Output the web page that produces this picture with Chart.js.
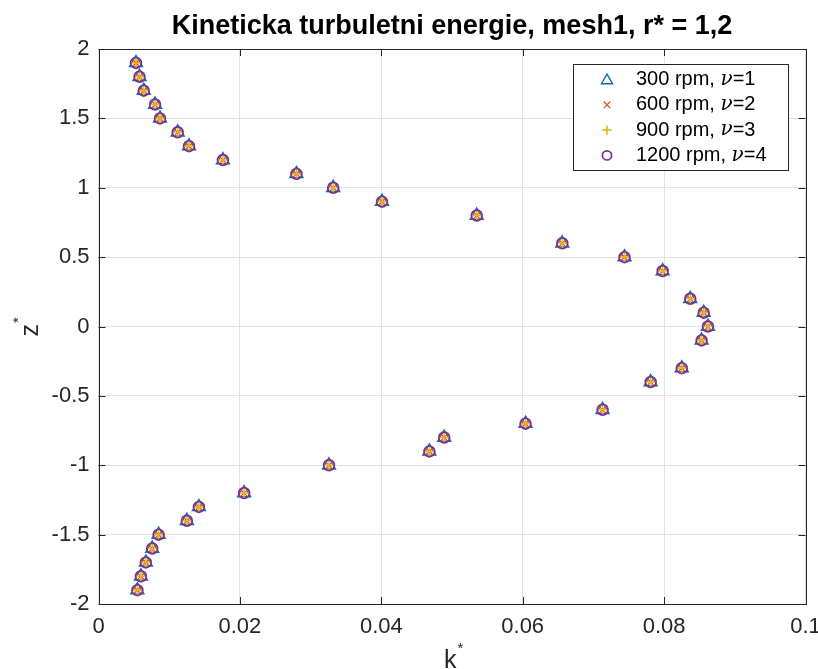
<!DOCTYPE html>
<html>
<head>
<meta charset="utf-8">
<title>Kineticka turbuletni energie</title>
<script src="https://cdn.jsdelivr.net/npm/chart.js@4.4.1/dist/chart.umd.min.js"></script>
<style>
  html, body { margin: 0; padding: 0; background: #fff; }
  #wrap { width: 818px; height: 669px; }
</style>
</head>
<body>
<div id="wrap"><canvas id="kChart" width="818" height="669"></canvas></div>
<script>
// dimensionless height z* of each sampled level
var zLevels = [1.9, 1.8, 1.7, 1.6, 1.5, 1.4, 1.3, 1.2, 1.1, 1.0, 0.9, 0.8, 0.6, 0.5, 0.4, 0.2, 0.1, 0,
               -0.1, -0.3, -0.4, -0.6, -0.7, -0.8, -0.9, -1.0, -1.2, -1.3, -1.4, -1.5, -1.6, -1.7, -1.8, -1.9]
// k* at those levels - the four runs collapse onto the same profile
var kStar = [0.0053, 0.0058, 0.0064, 0.0080, 0.0087, 0.0112, 0.0128, 0.0176, 0.0280, 0.0332, 0.0401, 0.0535,
             0.0656, 0.0744, 0.0798, 0.0837, 0.0856, 0.0862, 0.0853, 0.0825, 0.0781, 0.0713, 0.0604, 0.0489,
             0.0468, 0.0326, 0.0206, 0.0142, 0.0125, 0.0085, 0.0076, 0.0067, 0.0060, 0.0055]
var runLabels = ['300 rpm', '600 rpm', '900 rpm', '1200 rpm']
var nuValues = [1, 2, 3, 4]
var xTicks = [0, 0.02, 0.04, 0.06, 0.08, 0.1]
var yTicks = [-2, -1.5, -1, -0.5, 0, 0.5, 1, 1.5, 2]

var colors  = ['#0072BD', '#D95319', '#EDB120', '#7E2F8E']
var markers = ['triangle', 'crossRot', 'cross', 'circle']
var sizes   = [7.5, 5.5, 5.5, 5.4]
var widths  = [1.4, 1.2, 1.6, 1.7]

var FONT = '"Liberation Sans", Arial, Helvetica, sans-serif'
var INK = '#262626'

function points() {
  return kStar.map(function (k, i) { return { x: k, y: zLevels[i] } })
}

var datasets = runLabels.map(function (lab, i) {
  return {
    label: lab + ', \u03bd=' + nuValues[i],
    data: points(),
    showLine: false,
    pointStyle: markers[i],
    pointRadius: sizes[i],
    pointHoverRadius: sizes[i],
    pointBorderColor: colors[i],
    pointBackgroundColor: 'rgba(0,0,0,0)',
    pointBorderWidth: widths[i],
    order: 4 - i   // later runs on top
  }
})

// box, inward ticks, titles and legend drawn MATLAB style
var framePlugin = {
  id: 'frame',
  afterDraw: function (chart) {
    var ctx = chart.ctx, a = chart.chartArea
    var xs = chart.scales.x, ys = chart.scales.y
    ctx.save()
    ctx.strokeStyle = INK
    ctx.lineWidth = 1
    ctx.strokeRect(Math.round(a.left) + 0.5, Math.round(a.top) + 0.5,
                   Math.round(a.right - a.left), Math.round(a.bottom - a.top))

    var tl = 7
    ctx.beginPath()
    xTicks.forEach(function (v) {
      var px = Math.round(xs.getPixelForValue(v)) + 0.5
      ctx.moveTo(px, a.bottom); ctx.lineTo(px, a.bottom - tl)
      ctx.moveTo(px, a.top); ctx.lineTo(px, a.top + tl)
    })
    yTicks.forEach(function (v) {
      var py = Math.round(ys.getPixelForValue(v)) + 0.5
      ctx.moveTo(a.left, py); ctx.lineTo(a.left + tl, py)
      ctx.moveTo(a.right, py); ctx.lineTo(a.right - tl, py)
    })
    ctx.stroke()

    // title
    ctx.fillStyle = '#000'
    ctx.font = 'bold 27px ' + FONT
    ctx.textAlign = 'center'
    ctx.textBaseline = 'alphabetic'
    ctx.fillText('Kineticka turbuletni energie, mesh1, r* = 1,2', (a.left + a.right) / 2, 34)

    // axis titles with superscript star
    ctx.fillStyle = INK
    ctx.font = '25px ' + FONT
    ctx.textAlign = 'left'
    var kx = (a.left + a.right) / 2 - 8
    ctx.fillText('k', kx, 668)
    var kw = ctx.measureText('k').width
    ctx.font = '15px ' + FONT
    ctx.fillText('*', kx + kw + 1, 653)

    ctx.save()
    ctx.translate(38, (a.top + a.bottom) / 2 + 10)
    ctx.rotate(-Math.PI / 2)
    ctx.font = '25px ' + FONT
    ctx.fillText('z', 0, 0)
    var zw = ctx.measureText('z').width
    ctx.font = '15px ' + FONT
    ctx.fillText('*', zw + 1, -15)
    ctx.restore()

    // legend
    var lx = 573, ly = 64, lw = 215, lh = 106
    ctx.fillStyle = '#fff'
    ctx.fillRect(lx, ly, lw, lh)
    ctx.strokeStyle = INK
    ctx.lineWidth = 1
    ctx.strokeRect(lx + 0.5, ly + 0.5, lw, lh)
    chart.data.datasets.forEach(function (ds, i) {
      var cy = 79.5 + i * 25.3
      ctx.strokeStyle = colors[i]
      ctx.fillStyle = 'rgba(0,0,0,0)'
      ctx.lineWidth = widths[i]
      Chart.helpers.drawPoint(ctx, { pointStyle: markers[i], radius: sizes[i] * 0.85, rotation: 0, borderWidth: widths[i] }, 607, cy + (i === 0 ? 1 : 0))
      ctx.fillStyle = '#000'
      ctx.textBaseline = 'middle'
      var tx = 636
      ctx.font = '20px ' + FONT
      var head = runLabels[i] + ', '
      ctx.fillText(head, tx, cy)
      tx += ctx.measureText(head).width
      ctx.font = 'italic 20px "DejaVu Serif", "Liberation Serif", serif'
      ctx.fillText('\u03bd', tx, cy)
      tx += ctx.measureText('\u03bd').width
      ctx.font = '20px ' + FONT
      ctx.fillText('=' + nuValues[i], tx, cy)
    })
    ctx.restore()
  }
}

new Chart(document.getElementById('kChart').getContext('2d'), {
  type: 'scatter',
  data: { datasets: datasets },
  options: {
    responsive: false,
    animation: false,
    layout: { padding: { top: 49, right: 12.5, bottom: 0, left: 0 } },
    plugins: {
      legend: { display: false },
      title: { display: false },
      tooltip: { enabled: false }
    },
    scales: {
      x: {
        type: 'linear',
        min: 0,
        max: 0.1,
        afterBuildTicks: function (s) { s.ticks = xTicks.map(function (v) { return { value: v } }) },
        afterFit: function (s) { s.height = 65; s.paddingLeft = 0; s.paddingRight = 0 },
        grid: { color: '#e3e3e3', drawTicks: false },
        border: { display: false },
        ticks: {
          padding: 10,
          color: INK,
          maxRotation: 0,
          font: { family: FONT, size: 22 },
          callback: function (v) { return String(+v.toFixed(2)) }
        }
      },
      y: {
        type: 'linear',
        min: -2,
        max: 2,
        afterBuildTicks: function (s) { s.ticks = yTicks.map(function (v) { return { value: v } }) },
        afterFit: function (s) { s.width = 98.5; s.paddingTop = 0; s.paddingBottom = 0 },
        grid: { color: '#e3e3e3', drawTicks: false },
        border: { display: false },
        ticks: {
          padding: 9,
          color: INK,
          font: { family: FONT, size: 22 },
          callback: function (v) { return String(+v.toFixed(1)) }
        }
      }
    }
  },
  plugins: [framePlugin]
})
</script>
</body>
</html>
